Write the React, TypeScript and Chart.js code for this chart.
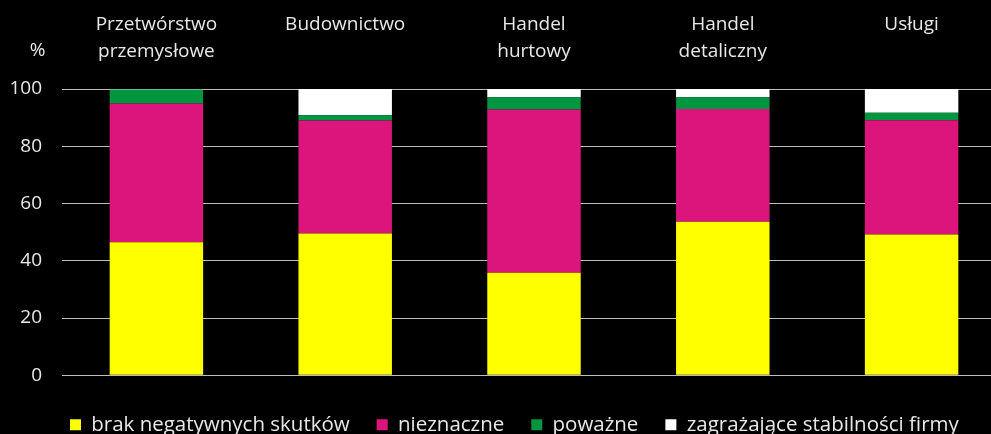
import React, { useEffect, useRef } from 'react';
import { Chart, registerables } from 'chart.js';

Chart.register(...registerables);

const categories: string[][] = [
  ['Przetwórstwo', 'przemysłowe'],
  ['Budownictwo'],
  ['Handel', 'hurtowy'],
  ['Handel', 'detaliczny'],
  ['Usługi'],
];
const seriesNames = ['brak negatywnych skutków', 'nieznaczne', 'poważne', 'zagrażające stabilności firmy'];
const brak = [46.5, 49.5, 35.8, 53.6, 49.2];
const nieznaczne = [48.4, 39.5, 57.0, 39.4, 39.9];
const powazne = [4.9, 1.8, 4.3, 4.1, 2.6];
const zagrazajace = [0.2, 9.2, 2.9, 2.9, 8.3];
const yTicks = [0, 20, 40, 60, 80, 100];
const yUnit = '%';

const FONT = '"Open Sans"';
const TEXT = '#e8e8e8';

export default function App() {
  const ref = useRef<HTMLCanvasElement | null>(null);
  useEffect(() => {
    if (!ref.current) return;
    const unitPlugin = {
      id: 'unitLabel',
      afterLayout(chart: any) {
        // shift legend start so the first swatch sits under the plot's left side
        if (chart.legend) chart.legend.left = 43;
      },
      afterDraw(chart: any) {
        const ctx = chart.ctx;
        ctx.save();
        ctx.fillStyle = TEXT;
        ctx.font = `19px ${FONT}`;
        ctx.textAlign = 'center';
        ctx.textBaseline = 'middle';
        ctx.fillText(yUnit, 37.5, 51);
        ctx.restore();
      },
    };
    const chart = new Chart(ref.current, {
      type: 'bar',
      data: {
        labels: categories,
        datasets: [
          { label: seriesNames[0], data: brak, backgroundColor: '#ffff00' },
          { label: seriesNames[1], data: nieznaczne, backgroundColor: '#dc157c' },
          { label: seriesNames[2], data: powazne, backgroundColor: '#009640' },
          { label: seriesNames[3], data: zagrazajace, backgroundColor: '#ffffff' },
        ],
      },
      plugins: [unitPlugin],
      options: {
        animation: false,
        responsive: true,
        maintainAspectRatio: false,
        devicePixelRatio: 1,
        layout: { padding: { left: 0, right: 0, top: 0, bottom: 0 } },
        datasets: { bar: { barPercentage: 1, categoryPercentage: 0.495, borderWidth: 0 } },
        plugins: {
          tooltip: { enabled: false },
          legend: {
            position: 'bottom',
            align: 'start',
            title: { display: true, text: ' ', font: { size: 10, lineHeight: 1 }, padding: { top: 2.25, bottom: 0 } },
            labels: {
              color: TEXT,
              font: { family: FONT, size: 20.5 },
              boxWidth: 11,
              boxHeight: 11,
              padding: 27,
            },
          },
        },
        scales: {
          x: {
            position: 'top',
            stacked: true,
            grid: { display: false, drawTicks: false },
            border: { display: false },
            ticks: {
              color: TEXT,
              font: { family: FONT, size: 19, lineHeight: 27 / 19 },
              padding: 24,
              crossAlign: 'far',
              maxRotation: 0,
              autoSkip: false,
            },
            afterFit: (s: any) => { s.height = 89; },
          },
          y: {
            stacked: true,
            min: yTicks[0],
            max: yTicks[yTicks.length - 1],
            grid: { color: '#bdbdbd', lineWidth: 1, drawTicks: false },
            border: { display: false },
            ticks: {
              color: TEXT,
              font: { family: FONT, size: 19 },
              padding: 20,
              stepSize: yTicks[1] - yTicks[0],
              autoSkip: false,
            },
            afterFit: (s: any) => { s.width = 62; },
          },
        },
      },
    });
    return () => chart.destroy();
  }, []);
  return (
    <div style={{ position: 'fixed', left: 0, top: 0, width: 1006, height: 445, background: '#000' }}>
      <canvas ref={ref} />
    </div>
  );
}

if (typeof document !== 'undefined') {
  document.body.style.background = '#000';
}
